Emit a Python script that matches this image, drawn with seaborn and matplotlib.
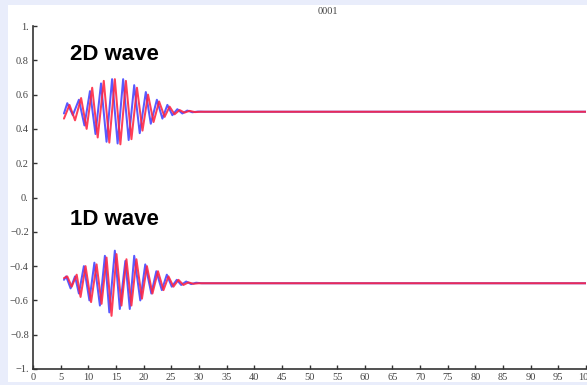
import matplotlib
matplotlib.use("Agg")
import matplotlib.pyplot as plt
from matplotlib.patches import Rectangle
import pandas as pd
import seaborn as sns

# --- wave traces: turning points of each packet, then the flat tail ---
x_2d_blue = [5.6, 6.2, 7.2, 8.3, 9.3, 10.3, 11.3, 12.3, 13.3, 14.3, 15.3, 16.3, 17.3, 18.3,
             19.3, 20.4, 21.3, 22.4, 23.4, 24.3, 25.2, 26.1, 27.0, 27.9, 28.8, 29.8, 31.0, 100.0]
y_2d_blue = [0.49, 0.55, 0.48, 0.57, 0.42, 0.62, 0.37, 0.665, 0.325, 0.69, 0.315, 0.69, 0.335, 0.655,
             0.375, 0.615, 0.43, 0.57, 0.46, 0.54, 0.48, 0.515, 0.49, 0.507, 0.497, 0.501, 0.5, 0.5]

x_2d_red = [5.6, 6.6, 7.6, 8.7, 9.7, 10.7, 11.7, 12.8, 13.8, 14.8, 15.8, 16.8, 17.8, 18.8,
            19.8, 20.8, 21.8, 22.8, 23.8, 24.7, 25.6, 26.5, 27.4, 28.3, 29.3, 30.3, 100.0]
y_2d_red = [0.46, 0.54, 0.45, 0.58, 0.40, 0.64, 0.35, 0.68, 0.32, 0.69, 0.31, 0.68, 0.34, 0.64,
            0.39, 0.60, 0.44, 0.56, 0.47, 0.53, 0.485, 0.51, 0.495, 0.505, 0.498, 0.5, 0.5]

x_1d_blue = [5.6, 6.0, 6.8, 7.6, 8.3, 9.2, 10.2, 11.1, 12.1, 13.0, 13.8, 14.8, 15.7, 16.7, 17.5,
             18.3, 19.4, 20.3, 21.4, 22.3, 23.3, 24.2, 25.1, 26.0, 26.8, 27.7, 28.6, 29.5, 30.5, 100.0]
y_1d_blue = [-0.48, -0.46, -0.53, -0.46, -0.56, -0.40, -0.60, -0.38, -0.63, -0.34, -0.67, -0.31,
             -0.65, -0.37, -0.65, -0.34, -0.60, -0.39, -0.56, -0.43, -0.54, -0.45, -0.52, -0.48,
             -0.51, -0.49, -0.505, -0.497, -0.5, -0.5]

x_1d_red = [5.6, 6.2, 7.0, 7.9, 8.6, 9.5, 10.5, 11.5, 12.4, 13.3, 14.2, 15.1, 16.0, 16.9, 17.8,
            18.7, 19.7, 20.6, 21.6, 22.6, 23.6, 24.5, 25.4, 26.3, 27.2, 28.1, 29.0, 30.0, 100.0]
y_1d_red = [-0.47, -0.46, -0.52, -0.45, -0.58, -0.40, -0.61, -0.39, -0.62, -0.35, -0.69, -0.33,
            -0.63, -0.36, -0.63, -0.36, -0.59, -0.40, -0.56, -0.43, -0.54, -0.46, -0.52, -0.48,
            -0.51, -0.495, -0.503, -0.5, -0.5]

x_ticks = list(range(0, 101, 5))
y_ticks = [-1.0, -0.8, -0.6, -0.4, -0.2, 0.0, 0.2, 0.4, 0.6, 0.8, 1.0]
y_tick_labels = ["\u22121.", "\u22120.8", "\u22120.6", "\u22120.4", "\u22120.2", "0.",
                 "0.2", "0.4", "0.6", "0.8", "1."]

frame_label = "0001"
label_2d = "2D wave"
label_1d = "1D wave"

sns.set_theme(style="white")
plt.rcParams["font.family"] = ["DejaVu Sans"]

fig = plt.figure(figsize=(5.87, 3.85), dpi=100, facecolor="#e9edfb")
# white page area behind the plot
fig.patches.append(Rectangle((8 / 587, 3 / 385), 1 - 8 / 587, 1 - 8 / 385,
                             transform=fig.transFigure, facecolor="white",
                             edgecolor="none", zorder=-10))

ax = fig.add_axes([33 / 587, 1 - 369 / 385, 553 / 587, 343 / 385])
ax.set_zorder(1)
ax.set_facecolor("none")

traces = [
    (x_2d_blue, y_2d_blue, "#2f2fff", 0.8),
    (x_1d_blue, y_1d_blue, "#2f2fff", 0.8),
    (x_2d_red, y_2d_red, "#ff2440", 0.88),
    (x_1d_red, y_1d_red, "#ff2440", 0.88),
]
for xs, ys, col, alpha in traces:
    df = pd.DataFrame({"x": xs, "y": ys})
    sns.lineplot(data=df, x="x", y="y", ax=ax, color=col, linewidth=1.45,
                 sort=False, estimator=None, alpha=alpha,
                 solid_joinstyle="round", solid_capstyle="round")

ax.set_xlim(0, 100)
ax.set_ylim(-1, 1)
ax.set_xlabel("")
ax.set_ylabel("")

ax.set_xticks(x_ticks)
ax.set_xticklabels([str(v) for v in x_ticks])
ax.set_yticks(y_ticks)
ax.set_yticklabels(y_tick_labels)
for lab in ax.get_xticklabels() + ax.get_yticklabels():
    lab.set_fontfamily("Liberation Serif")
    lab.set_fontsize(7.5)
    lab.set_color("#444444")
ax.tick_params(axis="both", direction="in", length=3, width=1, color="#333333",
               pad=3, left=True, bottom=True)

for side in ("top", "right"):
    ax.spines[side].set_visible(False)
for side in ("left", "bottom"):
    ax.spines[side].set_color("#333333")
    ax.spines[side].set_linewidth(1.2)

ax.text(6.7, 0.80, label_2d, fontsize=16, fontweight="bold",
        family="Liberation Sans", color="black", va="baseline", ha="left")
ax.text(6.7, -0.16, label_1d, fontsize=16, fontweight="bold",
        family="Liberation Sans", color="black", va="baseline", ha="left")

fig.text(328 / 587, 1 - 12 / 385, frame_label, family="Liberation Serif",
         fontsize=7.5, color="#444444", ha="center", va="center")

fig.savefig("out.png", dpi=100, facecolor=fig.get_facecolor())
